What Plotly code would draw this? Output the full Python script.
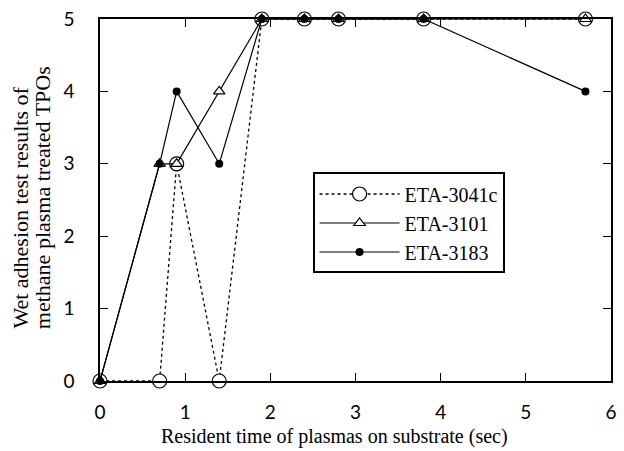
import plotly.graph_objects as go

times = [0, 0.7, 0.9, 1.4, 1.9, 2.4, 2.8, 3.8, 5.7]
eta_3041c = [0, 0, 3, 0, 5, 5, 5, 5, 5]
eta_3101 = [0, 3, 3, 4, 5, 5, 5, 5, 5]
eta_3183 = [0, 3, 4, 3, 5, 5, 5, 5, 4]
x_ticks = [0, 1, 2, 3, 4, 5, 6]
y_ticks = [0, 1, 2, 3, 4, 5]

SERIF = "Liberation Serif, Times New Roman, serif"
SANS = "Lato, DejaVu Sans, sans-serif"

fig = go.Figure()
fig.add_trace(go.Scatter(
    x=times, y=eta_3041c, name="ETA-3041c", mode="lines+markers",
    line=dict(color="black", width=1.3, dash="dot"),
    marker=dict(symbol="circle", size=14, color="white",
                line=dict(color="black", width=1.2)),
    cliponaxis=False))
fig.add_trace(go.Scatter(
    x=times, y=eta_3101, name="ETA-3101", mode="lines+markers",
    line=dict(color="black", width=1.2),
    marker=dict(symbol="triangle-up", size=10, color="white",
                line=dict(color="black", width=1.2)),
    cliponaxis=False))
fig.add_trace(go.Scatter(
    x=times, y=eta_3183, name="ETA-3183", mode="lines+markers",
    line=dict(color="black", width=1.2),
    marker=dict(symbol="circle", size=8, color="black"),
    cliponaxis=False))

axis_common = dict(
    showgrid=False, zeroline=False, showline=True, linecolor="black",
    linewidth=1.5, mirror="ticks", ticks="inside", ticklen=8,
    tickwidth=1.2, tickcolor="black",
    tickfont=dict(family=SANS, size=19, color="black"),
)
fig.update_xaxes(range=[0, 6], tickvals=x_ticks, ticklabelstandoff=13,
                 **axis_common)
fig.update_yaxes(range=[0, 5], tickvals=y_ticks, ticklabelstandoff=20,
                 **axis_common)

fig.add_annotation(text="Resident time of plasmas on substrate (sec)",
                   xref="paper", yref="paper", x=0.458, y=-0.154,
                   xanchor="center", yanchor="middle", showarrow=False,
                   font=dict(family=SERIF, size=20, color="black"))
fig.add_annotation(text="Wet adhesion test results of",
                   xref="paper", yref="paper", x=-0.1547, y=0.479,
                   xanchor="center", yanchor="middle", showarrow=False,
                   textangle=-90,
                   font=dict(family=SERIF, size=22, color="black"))
fig.add_annotation(text="methane plasma treated TPOs",
                   xref="paper", yref="paper", x=-0.1122, y=0.507,
                   xanchor="center", yanchor="middle", showarrow=False,
                   textangle=-90,
                   font=dict(family=SERIF, size=22, color="black"))

fig.update_layout(
    width=624, height=451,
    margin=dict(l=100, r=7, t=18, b=70),
    paper_bgcolor="white", plot_bgcolor="white",
    showlegend=True,
    legend=dict(x=0.416, y=0.576, xanchor="left", yanchor="top",
                bgcolor="white", bordercolor="black", borderwidth=2,
                font=dict(family=SERIF, size=20, color="black"),
                itemwidth=80, tracegroupgap=0),
)

fig.write_html("out.html")
